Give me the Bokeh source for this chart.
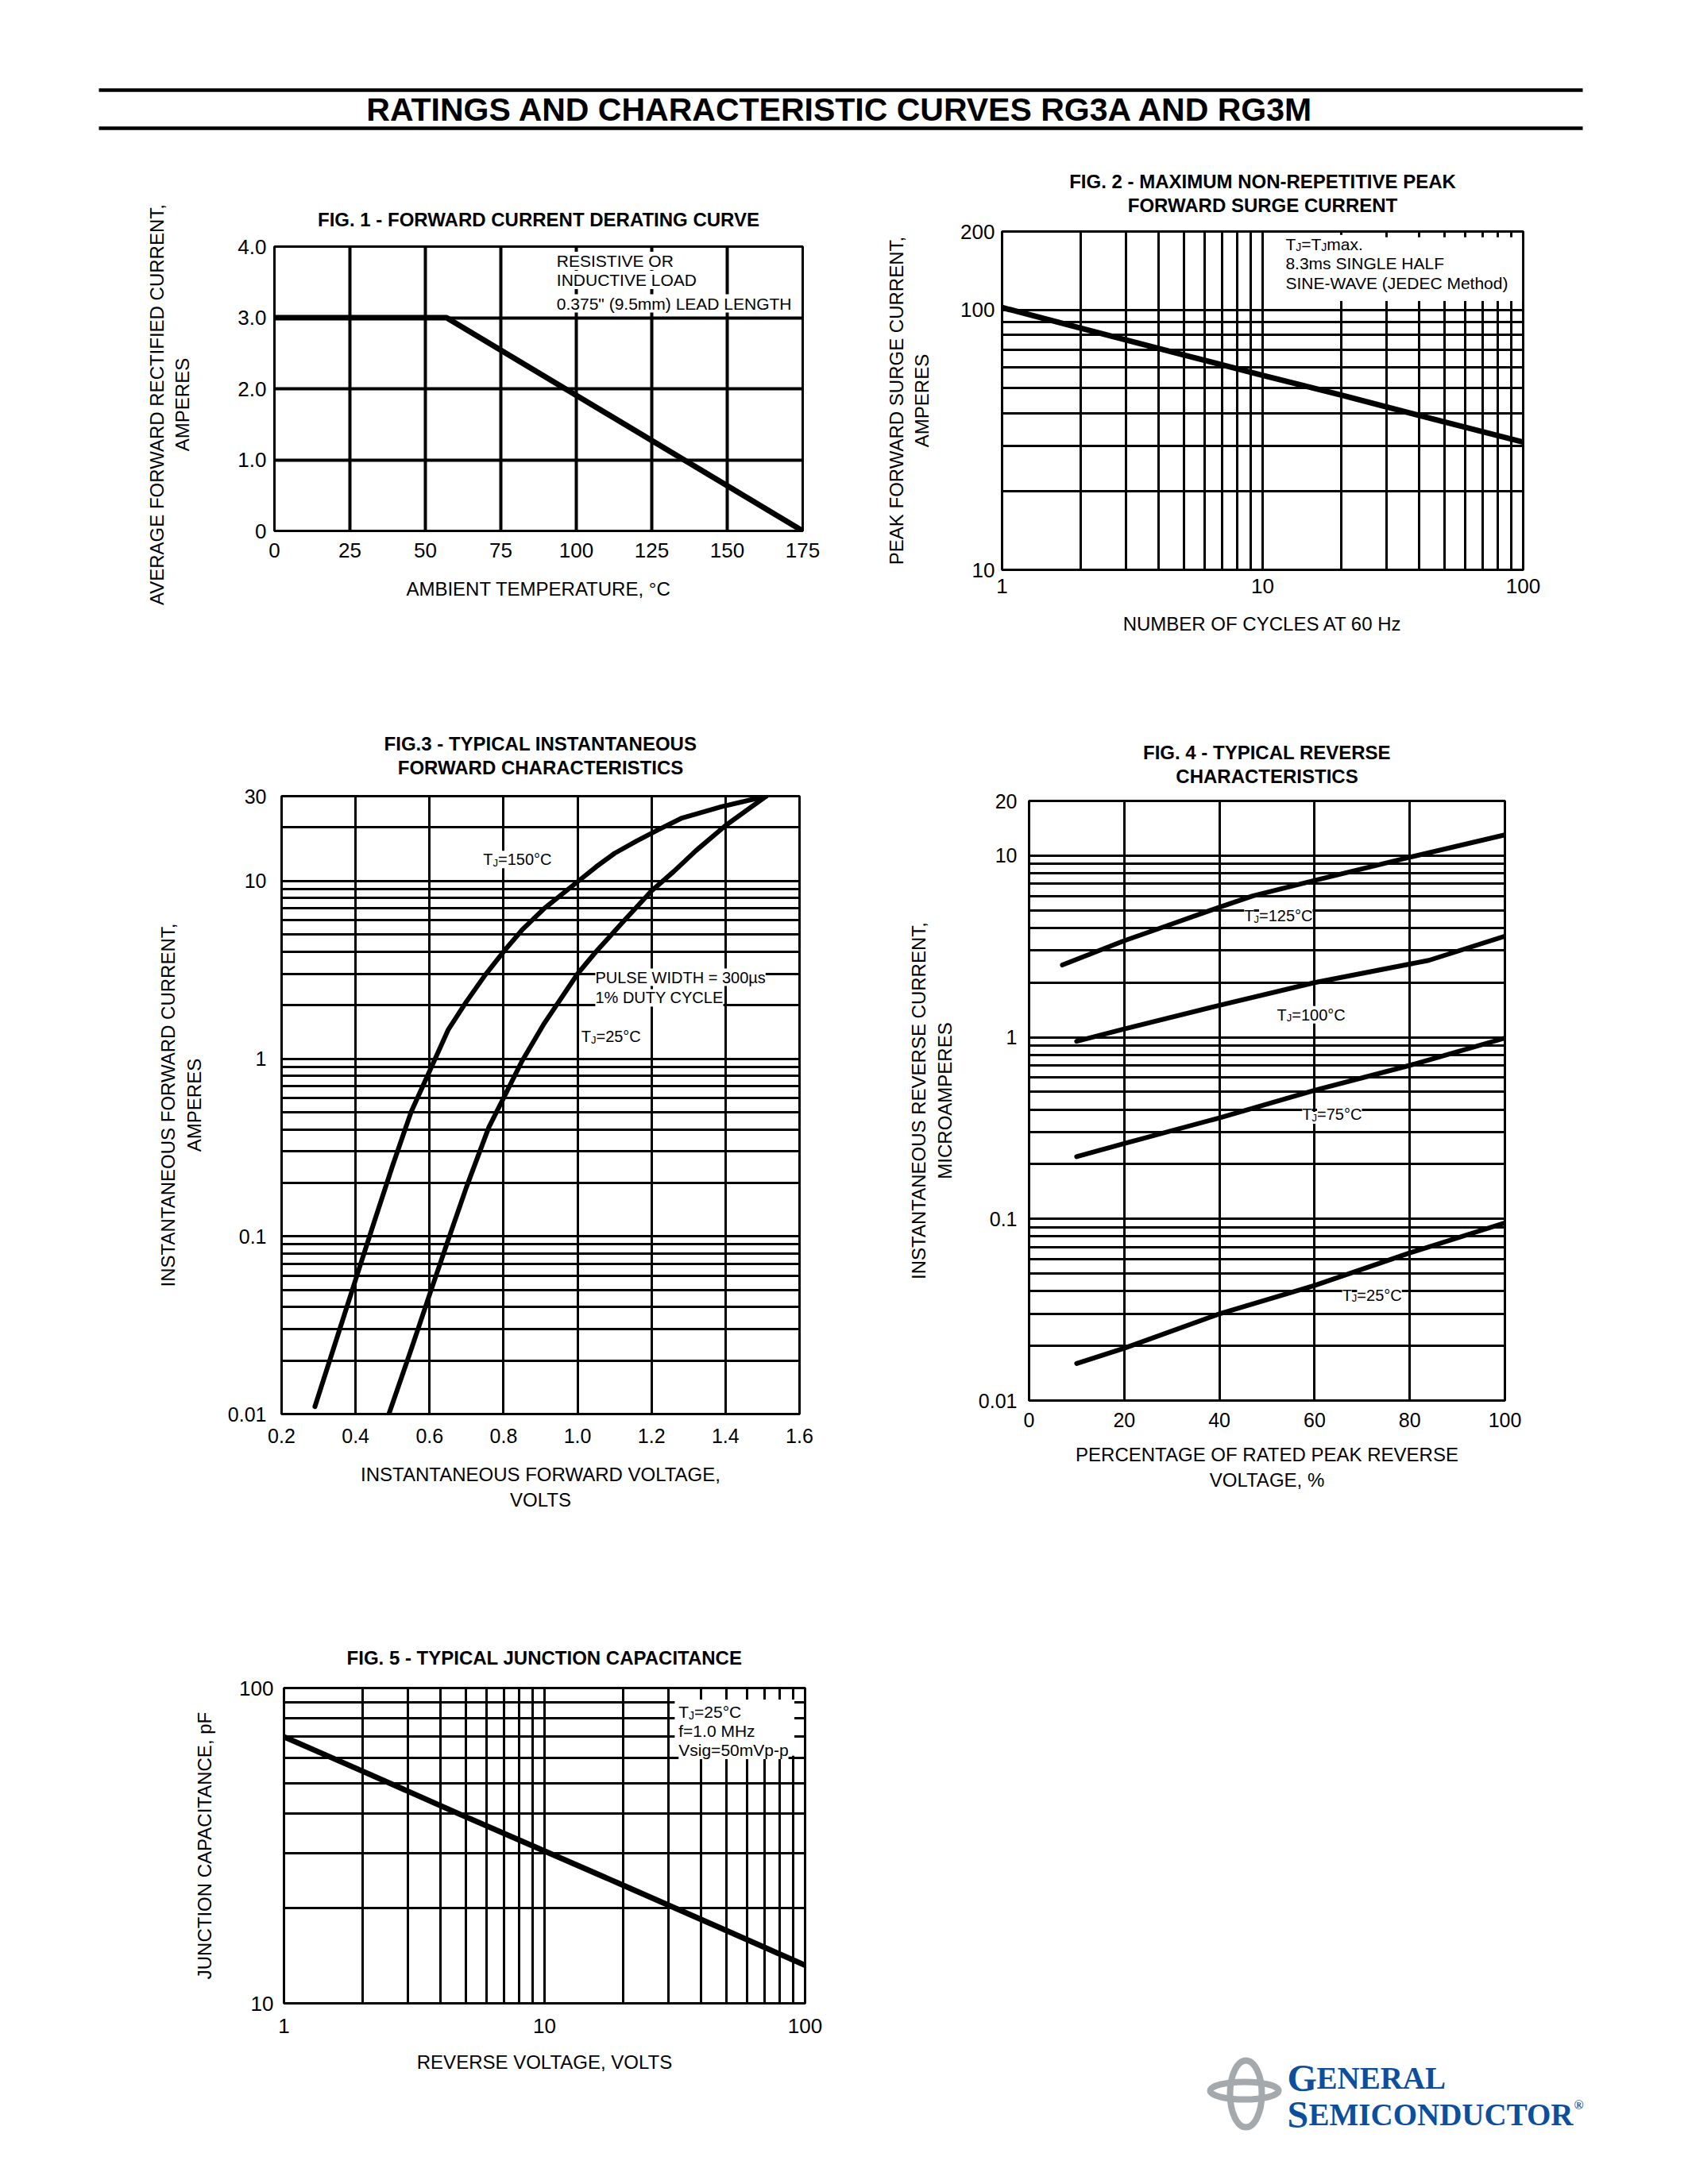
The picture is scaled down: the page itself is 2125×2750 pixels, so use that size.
from bokeh.plotting import figure
from bokeh.layouts import column, row
from bokeh.models import (Range1d, FixedTicker, CustomJSTickFormatter, Label,
                          LinearAxis, LogAxis)
from bokeh.core.properties import value
from bokeh.embed import file_html
from bokeh.resources import INLINE

FONT = "Liberation Sans"

# ---------------- DATA ----------------
# Fig. 1 - forward current derating curve
fig1_temp_c = [0, 57, 175]
fig1_current_a = [3.0, 3.0, 0.0]
fig1_x_ticks = [0, 25, 50, 75, 100, 125, 150, 175]
fig1_x_labels = ["0", "25", "50", "75", "100", "125", "150", "175"]
fig1_y_ticks = [0, 1, 2, 3, 4]
fig1_y_labels = ["0", "1.0", "2.0", "3.0", "4.0"]

# Fig. 2 - maximum non-repetitive peak forward surge current
fig2_cycles = [1, 2, 5, 10, 20, 50, 100]
fig2_surge_a = [102, 85, 67, 56, 47, 37, 31]
fig2_x_ticks = [1, 10, 100]
fig2_x_labels = ["1", "10", "100"]
fig2_x_minor = [2, 3, 4, 5, 6, 7, 8, 9, 20, 30, 40, 50, 60, 70, 80, 90]
fig2_y_ticks = [10, 100, 200]
fig2_y_labels = ["10", "100", "200"]
fig2_y_minor = [20, 30, 40, 50, 60, 70, 80, 90]

# Fig. 3 - typical instantaneous forward characteristics
fig3_vf_150 = [0.29, 0.35, 0.40, 0.45, 0.50, 0.55, 0.60, 0.65, 0.70, 0.75, 0.80,
               0.85, 0.91, 1.00, 1.05, 1.10, 1.16, 1.22, 1.28, 1.39, 1.51]
fig3_if_150 = [0.011, 0.027, 0.057, 0.12, 0.25, 0.50, 0.85, 1.45, 2.1, 2.95, 4.0,
               5.3, 7.0, 9.9, 12.0, 14.3, 16.8, 19.5, 22.5, 26.2, 30]
fig3_vf_25 = [0.49, 0.55, 0.60, 0.65, 0.70, 0.76, 0.80, 0.85, 0.91, 1.00, 1.05,
              1.12, 1.20, 1.26, 1.32, 1.40, 1.51]
fig3_if_25 = [0.010, 0.023, 0.047, 0.095, 0.19, 0.41, 0.60, 0.97, 1.58, 3.0, 4.0,
              5.8, 8.8, 11.3, 14.8, 20.5, 30]
fig3_x_ticks = [0.2, 0.4, 0.6, 0.8, 1.0, 1.2, 1.4, 1.6]
fig3_x_labels = ["0.2", "0.4", "0.6", "0.8", "1.0", "1.2", "1.4", "1.6"]
fig3_y_ticks = [0.01, 0.1, 1, 10, 30]
fig3_y_labels = ["0.01", "0.1", "1", "10", "30"]
fig3_y_minor = [0.02, 0.03, 0.04, 0.05, 0.06, 0.07, 0.08, 0.09,
                0.2, 0.3, 0.4, 0.5, 0.6, 0.7, 0.8, 0.9,
                2, 3, 4, 5, 6, 7, 8, 9, 20]

# Fig. 4 - typical reverse characteristics
fig4_pct_125 = [7, 20, 30, 40, 47, 60, 80, 100]
fig4_ir_125 = [2.5, 3.4, 4.2, 5.2, 6.0, 7.3, 9.8, 13.0]
fig4_pct_100 = [10, 20, 40, 60, 84, 100]
fig4_ir_100 = [0.95, 1.11, 1.5, 2.0, 2.65, 3.6]
fig4_pct_75 = [10, 20, 40, 60, 80, 100]
fig4_ir_75 = [0.22, 0.26, 0.36, 0.51, 0.70, 0.99]
fig4_pct_25 = [10, 20, 40, 60, 80, 100]
fig4_ir_25 = [0.016, 0.0194, 0.030, 0.043, 0.065, 0.095]
fig4_x_ticks = [0, 20, 40, 60, 80, 100]
fig4_x_labels = ["0", "20", "40", "60", "80", "100"]
fig4_y_ticks = [0.01, 0.1, 1, 10, 20]
fig4_y_labels = ["0.01", "0.1", "1", "10", "20"]
fig4_y_minor = [0.02, 0.03, 0.04, 0.05, 0.06, 0.07, 0.08, 0.09,
                0.2, 0.3, 0.4, 0.5, 0.6, 0.7, 0.8, 0.9,
                2, 3, 4, 5, 6, 7, 8, 9]

# Fig. 5 - typical junction capacitance
fig5_vr = [1, 2, 5, 10, 20, 50, 100]
fig5_cj_pf = [70, 54.5, 39, 30.4, 23.7, 17, 13.2]
fig5_x_ticks = [1, 10, 100]
fig5_x_labels = ["1", "10", "100"]
fig5_x_minor = [2, 3, 4, 5, 6, 7, 8, 9, 20, 30, 40, 50, 60, 70, 80, 90]
fig5_y_ticks = [10, 100]
fig5_y_labels = ["10", "100"]
fig5_y_minor = [20, 30, 40, 50, 60, 70, 80, 90]

# ---------------- helpers ----------------
CHAR_W = {"T": .611, "J": .5, "=": .584, " ": .278, "m": .833, "a": .556,
          "x": .5, ".": .278, "\u00b0": .4, "C": .722}
for _d in "0123456789":
    CHAR_W[_d] = .556


def text_width(s, size):
    return sum(CHAR_W.get(c, .6) for c in s) * size


def style_axis(ax):
    ax.axis_line_color = None
    ax.major_tick_line_color = None
    ax.minor_tick_line_color = None
    ax.major_tick_out = 0
    ax.major_tick_in = 0
    ax.minor_tick_out = 0
    ax.minor_tick_in = 0
    ax.major_label_text_font = FONT
    ax.major_label_text_color = "black"
    ax.axis_label_text_font = FONT
    ax.axis_label_text_font_size = "24px"
    ax.axis_label_text_color = "black"
    ax.axis_label_text_line_height = 1.2


def make_fig(w, h, xr, yr, xlog, ylog, borders):
    p = figure(width=w, height=h, x_range=Range1d(*xr), y_range=Range1d(*yr),
               x_axis_type="log" if xlog else "linear",
               y_axis_type="log" if ylog else "linear",
               output_backend="svg", toolbar_location=None,
               min_border_left=borders[0], min_border_right=borders[1],
               min_border_top=borders[2], min_border_bottom=borders[3],
               frame_align=False)
    p.outline_line_color = "black"
    p.outline_line_width = 3
    p.outline_line_alpha = 1
    p.background_fill_color = "white"
    p.border_fill_color = "white"
    bottom_axis = p.below[0]
    left_axis = p.left[0]
    for ax in (bottom_axis, left_axis):
        style_axis(ax)
        ax.axis_label_text_font_style = "normal"
    return p, bottom_axis, left_axis


def add_title(p, text, standoff, xlog):
    ax = LogAxis() if xlog else LinearAxis()
    style_axis(ax)
    ax.ticker = FixedTicker(ticks=[])
    ax.major_label_text_font_size = "0px"
    ax.major_label_standoff = 0
    ax.axis_label = text
    ax.axis_label_text_font_style = "bold"
    ax.axis_label_text_line_height = 1.1
    ax.axis_label_standoff = standoff
    p.add_layout(ax, "above")


def set_ticks(ax, grid, ticks, labels, minor, size, standoff, gw=3):
    tk = FixedTicker(ticks=ticks, minor_ticks=minor or [])
    ax.ticker = tk
    grid.ticker = tk
    ax.formatter = CustomJSTickFormatter(args=dict(ts=ticks, ls=labels), code="""
        for (let i = 0; i < ts.length; i++) {
            if (Math.abs(ts[i] - tick) <= 1e-9 * Math.max(1, Math.abs(tick))) return ls[i];
        }
        return "";
    """)
    ax.major_label_text_font_size = size
    ax.major_label_standoff = standoff
    grid.grid_line_color = "black"
    grid.grid_line_width = gw
    grid.grid_line_alpha = 1
    if minor:
        grid.minor_grid_line_color = "black"
        grid.minor_grid_line_width = gw
        grid.minor_grid_line_alpha = 1


def note(p, x, y, txt, size=21):
    p.add_layout(Label(x=x, y=y, text=txt, text_font=FONT, text_font_size=f"{size}px",
                       text_baseline="middle", text_align="left", text_color="black",
                       background_fill_color="white"))


def rich_note(p, x, y, pieces, size=21, sub=14):
    off = 0.0
    for txt, is_sub in pieces:
        fs = sub if is_sub else size
        p.add_layout(Label(x=x, y=y, x_offset=off, y_offset=-4 if is_sub else 0,
                           text=txt, text_font=FONT, text_font_size=f"{fs}px",
                           text_baseline="middle", text_align="left", text_color="black",
                           background_fill_color="white"))
        off += text_width(txt, fs)


# ---------------- header ----------------
header = figure(width=2117, height=172, x_range=Range1d(0, 2117), y_range=Range1d(172, 0),
                x_axis_type=None, y_axis_type=None, output_backend="svg",
                toolbar_location=None, min_border=0, frame_align=False)
header.outline_line_color = None
rule_x0 = [124, 124]
rule_x1 = [1992, 1992]
rule_y = [113, 161]
header.segment(x0=rule_x0, y0=rule_y, x1=rule_x1, y1=rule_y, line_width=4.5, line_color="black")
header.text(x=[1058], y=[137], text=["RATINGS AND CHARACTERISTIC CURVES RG3A AND RG3M"],
            text_font=value(FONT), text_font_style=value("bold"), text_font_size=value("41px"),
            text_align="center", text_baseline="middle", text_color="black")

# ---------------- Fig. 1 ----------------
f1, f1x, f1y = make_fig(1090, 678, (0, 175), (0, 4), False, False, (345, 80, 138, 182))
set_ticks(f1x, f1.xgrid[0], fig1_x_ticks, fig1_x_labels, None, "26px", 15, gw=4)
set_ticks(f1y, f1.ygrid[0], fig1_y_ticks, fig1_y_labels, None, "26px", 10, gw=4)
f1x.axis_label = "AMBIENT TEMPERATURE, \u00b0C"
f1y.axis_label = "AVERAGE FORWARD RECTIFIED CURRENT,      \nAMPERES      "
f1x.axis_label_standoff = 23
f1y.axis_label_standoff = 53
add_title(f1, "FIG. 1 - FORWARD CURRENT DERATING CURVE", 21, False)
f1.line(fig1_temp_c, fig1_current_a, line_width=7, line_color="black", line_cap="round")
note(f1, 93.5, 3.80, "RESISTIVE OR")
note(f1, 93.5, 3.53, "INDUCTIVE LOAD")
note(f1, 93.5, 3.20, "0.375\" (9.5mm) LEAD LENGTH")

# ---------------- Fig. 2 ----------------
f2, f2x, f2y = make_fig(1027, 678, (1, 100), (10, 200), True, True, (171, 200, 119, 133))
set_ticks(f2x, f2.xgrid[0], fig2_x_ticks, fig2_x_labels, fig2_x_minor, "26px", 11)
set_ticks(f2y, f2.ygrid[0], fig2_y_ticks, fig2_y_labels, fig2_y_minor, "26px", 9)
f2x.axis_label = "NUMBER OF CYCLES AT 60 Hz"
f2y.axis_label = "PEAK FORWARD SURGE CURRENT,\nAMPERES"
f2x.axis_label_standoff = 22
f2y.axis_label_standoff = 32
add_title(f2, "FIG. 2 - MAXIMUM NON-REPETITIVE PEAK\nFORWARD SURGE CURRENT", 20, True)
f2.quad(left=[11.4], right=[99], bottom=[108], top=[190], fill_color="white", line_color=None)
f2.line(fig2_cycles, fig2_surge_a, line_width=7, line_color="black")
rich_note(f2, 12.25, 179, [("T", 0), ("J", 1), ("=T", 0), ("J", 1), (" max.", 0)])
note(f2, 12.25, 151, "8.3ms SINGLE HALF")
note(f2, 12.25, 126.6, "SINE-WAVE (JEDEC Method)")

# ---------------- Fig. 3 ----------------
f3, f3x, f3y = make_fig(1090, 1090, (0.2, 1.6), (0.01, 30), False, True, (354, 84, 152, 160))
set_ticks(f3x, f3.xgrid[0], fig3_x_ticks, fig3_x_labels, None, "25px", 18)
set_ticks(f3y, f3.ygrid[0], fig3_y_ticks, fig3_y_labels, fig3_y_minor, "25px", 19)
f3x.axis_label = "INSTANTANEOUS FORWARD VOLTAGE,\nVOLTS"
f3y.axis_label = "INSTANTANEOUS FORWARD CURRENT,\nAMPERES"
f3x.axis_label_standoff = 23
f3y.axis_label_standoff = 26
add_title(f3, "FIG.3 - TYPICAL INSTANTANEOUS\nFORWARD CHARACTERISTICS", 23, False)
f3.line(fig3_vf_150, fig3_if_150, line_width=6, line_color="black", line_cap="round", line_join="round")
f3.line(fig3_vf_25, fig3_if_25, line_width=6, line_color="black", line_cap="round", line_join="round")
rich_note(f3, 0.745, 13.2, [("T", 0), ("J", 1), ("=150\u00b0C", 0)], size=20, sub=13)
note(f3, 1.048, 2.87, "PULSE WIDTH = 300\u00b5s", size=20)
note(f3, 1.048, 2.2, "1% DUTY CYCLE", size=20)
rich_note(f3, 1.01, 1.33, [("T", 0), ("J", 1), ("=25\u00b0C", 0)], size=20, sub=13)

# ---------------- Fig. 4 ----------------
f4, f4x, f4y = make_fig(1027, 1090, (0, 100), (0.01, 20), False, True, (205, 223, 158, 177))
set_ticks(f4x, f4.xgrid[0], fig4_x_ticks, fig4_x_labels, None, "25px", 15)
set_ticks(f4y, f4.ygrid[0], fig4_y_ticks, fig4_y_labels, fig4_y_minor, "25px", 15)
f4x.axis_label = "PERCENTAGE OF RATED PEAK REVERSE\nVOLTAGE, %"
f4y.axis_label = "INSTANTANEOUS REVERSE CURRENT,\nMICROAMPERES"
f4x.axis_label_standoff = 18
f4y.axis_label_standoff = 26
add_title(f4, "FIG. 4 - TYPICAL REVERSE\nCHARACTERISTICS", 18, False)
for xs, ys in ((fig4_pct_125, fig4_ir_125), (fig4_pct_100, fig4_ir_100),
               (fig4_pct_75, fig4_ir_75), (fig4_pct_25, fig4_ir_25)):
    f4.line(xs, ys, line_width=6, line_color="black", line_cap="round", line_join="round")
rich_note(f4, 45.2, 4.65, [("T", 0), ("J", 1), ("=125\u00b0C", 0)], size=20, sub=13)
rich_note(f4, 52.1, 1.33, [("T", 0), ("J", 1), ("=100\u00b0C", 0)], size=20, sub=13)
rich_note(f4, 57.4, 0.375, [("T", 0), ("J", 1), ("=75\u00b0C", 0)], size=20, sub=13)
rich_note(f4, 65.8, 0.0381, [("T", 0), ("J", 1), ("=25\u00b0C", 0)], size=20, sub=13)

# ---------------- Fig. 5 ----------------
f5, f5x, f5y = make_fig(1090, 780, (1, 100), (10, 100), True, True, (357, 77, 185, 198))
set_ticks(f5x, f5.xgrid[0], fig5_x_ticks, fig5_x_labels, fig5_x_minor, "26px", 19)
set_ticks(f5y, f5.ygrid[0], fig5_y_ticks, fig5_y_labels, fig5_y_minor, "26px", 13)
f5x.axis_label = "REVERSE VOLTAGE, VOLTS"
f5y.axis_label = "JUNCTION CAPACITANCE, pF"
f5x.axis_label_standoff = 20
f5y.axis_label_standoff = 27
add_title(f5, "FIG. 5 - TYPICAL JUNCTION CAPACITANCE", 25, True)
f5.quad(left=[31.6], right=[91], bottom=[61], top=[92], fill_color="white", line_color=None)
f5.line(fig5_vr, fig5_cj_pf, line_width=7, line_color="black")
rich_note(f5, 32.7, 84.0, [("T", 0), ("J", 1), ("=25\u00b0C", 0)])
note(f5, 32.7, 73.1, "f=1.0 MHz")
note(f5, 32.7, 63.6, "Vsig=50mVp-p")

# ---------------- logo ----------------
BLUE = "#0d4f9b"
GRAY = "#a4a9ae"
logo = figure(width=1027, height=780, x_range=Range1d(1090, 2117), y_range=Range1d(2720, 1940),
              x_axis_type=None, y_axis_type=None, output_backend="svg",
              toolbar_location=None, min_border=0, frame_align=False)
logo.outline_line_color = None
logo.ellipse(x=[1568], y=[2636], width=[40], height=[84], fill_color=None,
             line_color=GRAY, line_width=8)
logo.ellipse(x=[1566], y=[2632], width=[86], height=[22], fill_color=None,
             line_color=GRAY, line_width=8)
for tx, ty, tt, ts in ((1620, 2616, "G", "48px"), (1657, 2616, "ENERAL", "39px"),
                       (1620, 2662, "S", "48px"), (1647, 2662, "EMICONDUCTOR", "39px"),
                       (1981, 2650, "\u00ae", "16px")):
    logo.text(x=[tx], y=[ty], text=[tt], text_font=value("Liberation Serif"),
              text_font_style=value("bold"), text_font_size=value(ts),
              text_color=BLUE, text_align="left", text_baseline="alphabetic")

root = column(header, row(f1, f2), row(f3, f4), row(f5, logo))
open("out.html", "w").write(file_html(root, INLINE))
